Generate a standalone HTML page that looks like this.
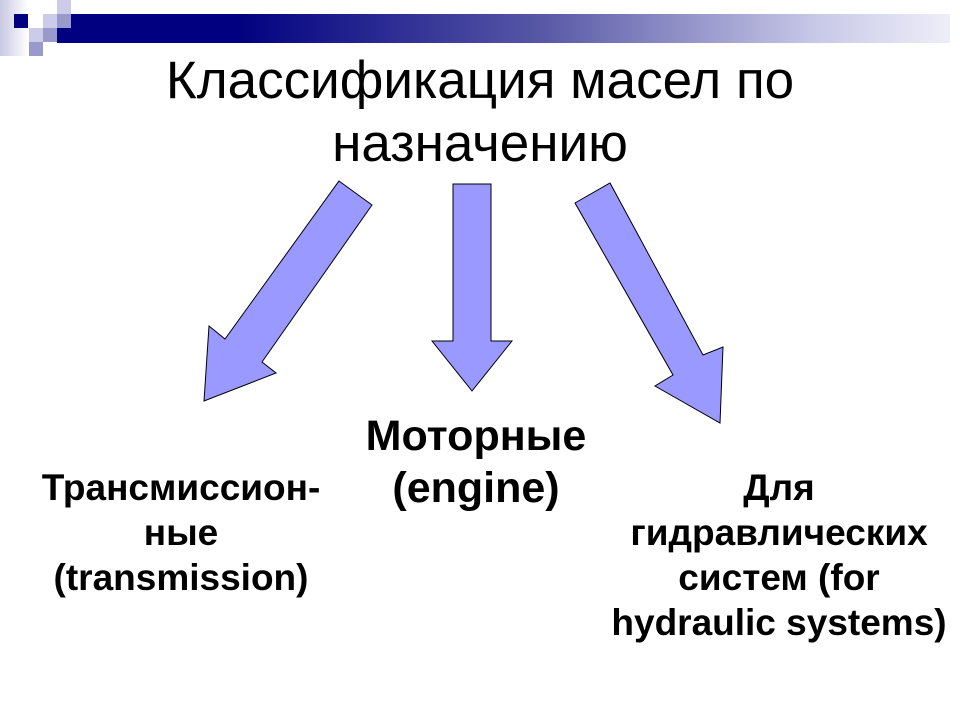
<!DOCTYPE html>
<html><head><meta charset="utf-8"><style>
body{margin:0;width:960px;height:720px;background:#fff;position:relative;overflow:hidden;font-family:"Liberation Sans",sans-serif}
.a{position:absolute}
.t{position:absolute;text-align:center;font-weight:bold;color:#000;white-space:nowrap}
</style></head><body>
<div class="a" style="left:0;top:0;width:28px;height:56px;background:linear-gradient(to right,#c8c8e4,#fff)"></div>
<div class="a" style="left:57px;top:14px;width:893px;height:29px;background:linear-gradient(to right,#000080 0%,#000080 20%,#5a5aa8 55%,#c8c8e8 85%,#eeeef8 100%)"></div>
<div class="a" style="left:14px;top:14px;width:14px;height:14px;background:#000080"></div>
<div class="a" style="left:43px;top:14px;width:14px;height:14px;background:#ccccea"></div>
<div class="a" style="left:57px;top:14px;width:14px;height:14px;background:#9999cc"></div>
<div class="a" style="left:57px;top:0;width:14px;height:14px;background:#ccccea"></div>
<div class="a" style="left:29px;top:28px;width:14px;height:14px;background:#ccccea"></div>
<div class="a" style="left:43px;top:28px;width:14px;height:14px;background:#9999cc"></div>
<div class="a" style="left:29px;top:42px;width:14px;height:14px;background:#9999cc"></div>
<div class="t" style="left:0;width:960px;top:49px;font-weight:normal;font-size:53px;line-height:63px">Классификация масел по<br>назначению</div>
<svg class="a" style="left:0;top:0" width="960" height="720">
<g fill="#9999ff" stroke="#000" stroke-width="1">
<polygon points="339,181 372,205 262,362 276,373 204,401 209,326 225,339"/>
<polygon points="453,184 491,184 491,341 512,341 472,391 432,341 453,341"/>
<polygon points="575,203 610,183 703,355 723,347 720,423 655,386 673,375"/>
</g></svg>
<div class="t" style="left:276px;width:400px;top:410px;font-size:43px;line-height:52px">Моторные<br>(engine)</div>
<div class="t" style="left:0;width:362px;top:465px;font-size:37px;line-height:45px">Трансмиссион-<br>ные<br>(transmission)</div>
<div class="t" style="left:579px;width:400px;top:465px;font-size:37px;line-height:45px">Для<br>гидравлических<br>систем (for<br>hydraulic systems)</div>
</body></html>
